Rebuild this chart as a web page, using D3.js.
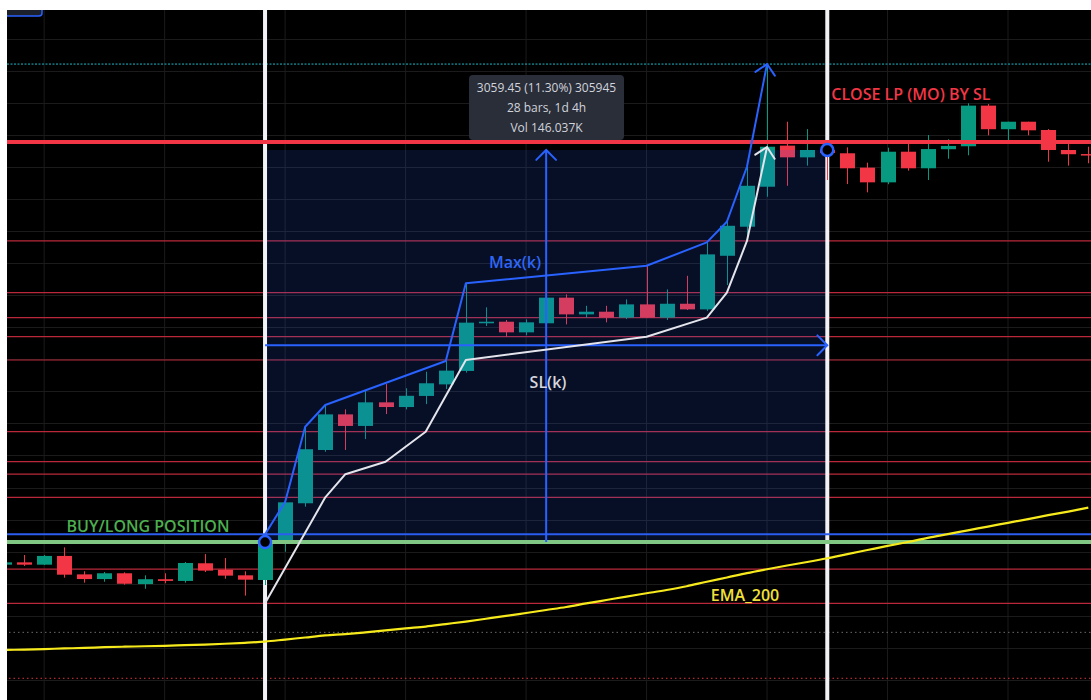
<!DOCTYPE html>
<html>
<head>
<meta charset="utf-8">
<script src="https://cdn.jsdelivr.net/npm/d3@7"></script>
<style>
  html, body { margin: 0; padding: 0; background: #ffffff; }
  svg { display: block; }
  text { font-family: "Open Sans", sans-serif; }
</style>
</head>
<body>
<div id="chart"></div>
<script>
const svgWidth = 1091;
const svgHeight = 700;
const margin = { top: 10, left: 7 };

// candles (one per bar, index = position on the time axis)
const opens  = [26930, 26945, 26930, 26986, 26868, 26838, 26875, 26806, 26837, 26826, 26939, 26898, 26862, 26832,
                27071, 27323, 27664, 27892, 27818, 27969, 27939, 28010, 28084, 28170, 28475, 28485, 28417, 28475,
                28639, 28532, 28549, 28511, 28596, 28511, 28600, 28564, 28907, 29093, 29349, 29612, 29537, 29584,
                29563, 29471, 29377, 29573, 29467, 29589, 29608, 29868, 29717, 29765, 29712, 29584, 29558];
const highs  = [26947, 26992, 26992, 27041, 26888, 26883, 26881, 26862, 26875, 26947, 26998, 26973, 26888, 27082,
                27331, 27813, 27952, 27924, 28043, 28086, 28059, 28165, 28234, 28731, 28577, 28496, 28500, 28645,
                28660, 28587, 28587, 28628, 28843, 28692, 28779, 28993, 29125, 29477, 30134, 29765, 29718, 29603,
                29601, 29503, 29599, 29627, 29680, 29653, 29883, 29878, 29765, 29765, 29718, 29627, 29605];
const lows   = [26928, 26922, 26928, 26847, 26815, 26821, 26802, 26776, 26811, 26815, 26883, 26840, 26732, 26800,
                27013, 27301, 27653, 27664, 27734, 27894, 27924, 27958, 28054, 28159, 28458, 28389, 28398, 28470,
                28468, 28511, 28481, 28502, 28509, 28496, 28560, 28554, 28720, 29040, 29285, 29355, 29484, 29392,
                29366, 29313, 29365, 29452, 29392, 29528, 29550, 29678, 29648, 29678, 29509, 29484, 29499];
const closes = [26945, 26930, 26986, 26866, 26838, 26875, 26808, 26837, 26826, 26941, 26892, 26860, 26834, 27075,
                27329, 27669, 27892, 27818, 27969, 27939, 28011, 28091, 28172, 28479, 28485, 28417, 28481, 28639,
                28532, 28549, 28511, 28596, 28511, 28600, 28564, 28916, 29099, 29355, 29605, 29537, 29584, 29565,
                29467, 29377, 29573, 29467, 29590, 29610, 29868, 29717, 29765, 29710, 29584, 29557, 29552];

// EMA 200, one value per bar
const ema200 = [26384, 26387, 26390, 26394, 26397, 26402, 26405, 26408, 26411, 26415, 26419, 26424, 26430, 26438,
                26451, 26464, 26477, 26486, 26497, 26509, 26522, 26534, 26550, 26566, 26584, 26602, 26621, 26640,
                26659, 26682, 26704, 26726, 26747, 26768, 26792, 26821, 26848, 26876, 26901, 26925, 26947, 26971,
                26998, 27024, 27050, 27075, 27102, 27126, 27150, 27174, 27198, 27222, 27247, 27270, 27295];

// Max(k) and SL(k) steps
const maxIdx = [13, 14, 15, 16, 22, 23, 32, 35, 36, 37, 38];
const maxVal = [27125, 27331, 27813, 27952, 28234, 28731, 28843, 28993, 29125, 29477, 30134];
const slIdx  = [13, 16, 17, 19, 21, 23, 32, 35, 36, 37, 38];
const slVal  = [26683, 27361, 27509, 27589, 27781, 28240, 28389, 28511, 28671, 29002, 29603];

// horizontal levels
const slLevels = [29002, 28671, 28511, 28389, 28240, 27781, 27589, 27509, 27361, 26901, 26683];
const closeLevel = 29635;
const targetLevel = 30134;
const blueLevel = 27125;
const entryLevel = 27075;
const exitLevel = 29584;
const greyDotLevel = 26497;
const redDotLevel = 26203;
const rangeLevel = 28334;

const entryIdx = 13;
const exitIdx = 41;
const rangeIdx = 27;

// grid
const gridIdx = [2, 8, 14, 20, 26, 32, 38, 44, 50];
const gridLevels = [30294, 30089, 29884, 29679, 29474, 29269, 29064, 28859, 28654, 28449, 28244, 28039,
                    27834, 27629, 27424, 27219, 27014, 26809, 26604, 26399, 26194];

const tipLines = ["3059.45 (11.30%) 305945", "28 bars, 1d 4h", "Vol 146.037K"];

const up = "#089981";
const down = "#f23645";
const blue = "#2962ff";

const x = d3.scaleLinear().domain([0, 54]).range([4, 4 + 54 * 20.08]);
const y = d3.scaleLinear().domain([26064, 30480]).range([700, 10]);

const svg = d3.select("#chart")
    .append("svg")
    .attr("width", svgWidth)
    .attr("height", svgHeight);

svg.append("clipPath").attr("id", "area")
    .append("rect")
    .attr("x", margin.left).attr("y", margin.top)
    .attr("width", svgWidth - margin.left).attr("height", svgHeight - margin.top);

svg.append("rect")
    .attr("x", margin.left).attr("y", margin.top)
    .attr("width", svgWidth - margin.left).attr("height", svgHeight - margin.top)
    .attr("fill", "#000000");

const chart = svg.append("g").attr("clip-path", "url(#area)");

// grid
chart.selectAll(".vgrid").data(gridIdx).enter().append("line")
    .attr("x1", d => x(d)).attr("x2", d => x(d))
    .attr("y1", 0).attr("y2", svgHeight)
    .attr("stroke", "#1b1b1b").attr("stroke-width", 1);
chart.selectAll(".hgrid").data(gridLevels).enter().append("line")
    .attr("x1", 0).attr("x2", svgWidth)
    .attr("y1", d => Math.round(y(d)) + 0.5).attr("y2", d => Math.round(y(d)) + 0.5)
    .attr("stroke", "#1b1b1b").attr("stroke-width", 1);

// horizontal levels
function hline(level, color, width, dash) {
    const yy = y(level);
    chart.append("line")
        .attr("x1", 0).attr("x2", svgWidth)
        .attr("y1", yy).attr("y2", yy)
        .attr("stroke", color).attr("stroke-width", width)
        .attr("stroke-dasharray", dash || null);
}
slLevels.forEach(l => hline(l, "#b8283a", 1.2));
hline(greyDotLevel, "#6a6a6a", 1, "1.5,3");
hline(redDotLevel, "#e0323f", 1, "1.5,3");
hline(targetLevel, "#1fb8c9", 1, "2,1.5");

// white time markers
[entryIdx, exitIdx].forEach(i => {
    chart.append("line")
        .attr("x1", x(i)).attr("x2", x(i))
        .attr("y1", 0).attr("y2", svgHeight)
        .attr("stroke", "#f2f2f6").attr("stroke-width", 4);
});

// candles
const bars = d3.range(opens.length);
chart.selectAll(".wick").data(bars).enter().append("line")
    .attr("x1", i => Math.round(x(i)) + 0.5).attr("x2", i => Math.round(x(i)) + 0.5)
    .attr("y1", i => y(highs[i])).attr("y2", i => y(lows[i]))
    .attr("stroke", i => closes[i] >= opens[i] ? up : down)
    .attr("stroke-width", 1);
chart.selectAll(".body").data(bars).enter().append("rect")
    .attr("x", i => Math.round(x(i)) - 7)
    .attr("width", 15)
    .attr("y", i => y(Math.max(opens[i], closes[i])))
    .attr("height", i => Math.max(1.5, Math.abs(y(opens[i]) - y(closes[i]))))
    .attr("fill", i => closes[i] >= opens[i] ? up : down);

// position box overlay
chart.append("rect")
    .attr("x", x(entryIdx) + 2).attr("width", x(exitIdx) - x(entryIdx) - 4)
    .attr("y", y(exitLevel)).attr("height", y(entryLevel) - y(exitLevel))
    .attr("fill", "rgba(41, 98, 255, 0.15)");

hline(closeLevel, "#f23645", 4);
hline(blueLevel, "#2b5ef0", 2);
hline(entryLevel, "#81c784", 4);

// EMA
const line = d3.line().x(d => x(d[0])).y(d => y(d[1])).curve(d3.curveMonotoneX);
chart.append("path")
    .datum(ema200.map((v, i) => [i, v]))
    .attr("d", line)
    .attr("fill", "none").attr("stroke", "#f7ea1c").attr("stroke-width", 2.2);

// arrows
function arrow(x1, y1, x2, y2, color, width) {
    const g = chart.append("g").attr("stroke", color).attr("stroke-width", width)
        .attr("fill", "none").attr("stroke-linecap", "round");
    const a = Math.atan2(y1 - y2, x1 - x2);
    const len = 14;
    g.append("path").attr("d",
        `M${x2 + len * Math.cos(a + Math.PI / 4)},${y2 + len * Math.sin(a + Math.PI / 4)}` +
        `L${x2},${y2}` +
        `L${x2 + len * Math.cos(a - Math.PI / 4)},${y2 + len * Math.sin(a - Math.PI / 4)}`);
    return g;
}

chart.append("line")
    .attr("x1", x(rangeIdx)).attr("x2", x(rangeIdx))
    .attr("y1", y(entryLevel)).attr("y2", y(exitLevel))
    .attr("stroke", blue).attr("stroke-width", 2);
arrow(x(rangeIdx), y(entryLevel), x(rangeIdx), y(exitLevel), blue, 2);

chart.append("line")
    .attr("x1", x(entryIdx)).attr("x2", x(exitIdx))
    .attr("y1", y(rangeLevel)).attr("y2", y(rangeLevel))
    .attr("stroke", blue).attr("stroke-width", 2);
arrow(x(entryIdx), y(rangeLevel), x(exitIdx), y(rangeLevel), blue, 2);

// SL(k) and Max(k)
const stepLine = d3.line().x(d => x(d[0])).y(d => y(d[1]));
const slPts = slIdx.map((d, i) => [d, slVal[i]]);
chart.append("path").datum(slPts).attr("d", stepLine)
    .attr("fill", "none").attr("stroke", "#e4e4ec").attr("stroke-width", 2)
    .attr("stroke-linejoin", "round");
const sa = slPts[slPts.length - 2], sb = slPts[slPts.length - 1];
arrow(x(sa[0]), y(sa[1]), x(sb[0]), y(sb[1]), "#e4e4ec", 2);

const maxPts = maxIdx.map((d, i) => [d, maxVal[i]]);
chart.append("path").datum(maxPts).attr("d", stepLine)
    .attr("fill", "none").attr("stroke", "#2962ff").attr("stroke-width", 2)
    .attr("stroke-linejoin", "round");
const ma = maxPts[maxPts.length - 2], mb = maxPts[maxPts.length - 1];
arrow(x(ma[0]), y(ma[1]), x(mb[0]), y(mb[1]), blue, 2);

// entry / exit markers
[[entryIdx, entryLevel], [exitIdx, exitLevel]].forEach(p => {
    chart.append("circle")
        .attr("cx", x(p[0])).attr("cy", y(p[1])).attr("r", 6)
        .attr("fill", "#000000").attr("stroke", blue).attr("stroke-width", 2.5);
});

// small panel at top left
chart.append("rect")
    .attr("x", margin.left - 2).attr("y", 2).attr("width", 37).attr("height", 14).attr("rx", 3)
    .attr("fill", "#1c202b").attr("stroke", blue).attr("stroke-width", 1.5);

// labels
chart.append("text")
    .attr("x", 148).attr("y", y(entryLevel) - 10)
    .attr("text-anchor", "middle")
    .attr("fill", "#4caf50").attr("font-size", 16).attr("font-weight", 600)
    .text("BUY/LONG POSITION");

chart.append("text")
    .attr("x", x(exitIdx) + 4).attr("y", 100)
    .attr("fill", "#f23645").attr("font-size", 16).attr("font-weight", 600)
    .text("CLOSE LP (MO) BY SL");

chart.append("text")
    .attr("x", 745).attr("y", 601)
    .attr("text-anchor", "middle")
    .attr("fill", "#f2e03a").attr("font-size", 16).attr("font-weight", 600)
    .text("EMA_200");

chart.append("text")
    .attr("x", 515).attr("y", 268)
    .attr("text-anchor", "middle")
    .attr("fill", "#2f66f5").attr("font-size", 16).attr("font-weight", 600)
    .text("Max(k)");

chart.append("text")
    .attr("x", 548).attr("y", 388)
    .attr("text-anchor", "middle")
    .attr("fill", "#d6d6de").attr("font-size", 16).attr("font-weight", 600)
    .text("SL(k)");

// measure tooltip
const tip = chart.append("g");
tip.append("rect")
    .attr("x", 469).attr("y", 75).attr("width", 155).attr("height", 65).attr("rx", 4)
    .attr("fill", "#2a2e39");
tip.selectAll("text").data(tipLines).enter().append("text")
    .attr("x", 546.5).attr("y", (d, i) => 92 + i * 20)
    .attr("text-anchor", "middle")
    .attr("fill", "#d1d4dc").attr("font-size", 12)
    .text(d => d);
</script>
</body>
</html>
